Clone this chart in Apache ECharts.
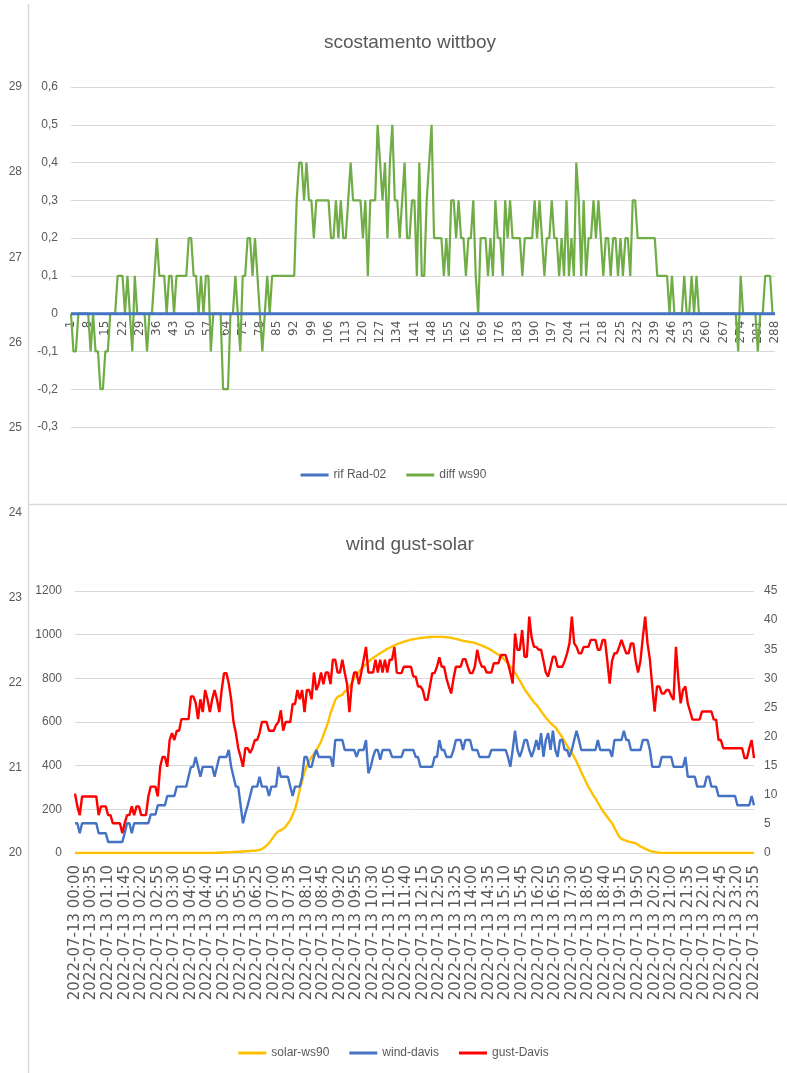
<!DOCTYPE html>
<html>
<head>
<meta charset="utf-8">
<title>scostamento wittboy / wind gust-solar</title>
<script src="https://cdn.jsdelivr.net/npm/echarts@6/dist/echarts.min.js"></script>
<style>
  html, body { margin: 0; padding: 0; background: #fff; }
  #chart { width: 787px; height: 1073px; }
</style>
</head>
<body>
<div id="chart"></div>
<script>
// ---- top chart: scostamento wittboy (288 samples, index 1..288) ----
const rifRad02 = [
  0,0,0,0,0,0,0,0,0,0,0,0, 0,0,0,0,0,0,0,0,0,0,0,0, 0,0,0,0,0,0,0,0,0,0,0,0,
  0,0,0,0,0,0,0,0,0,0,0,0, 0,0,0,0,0,0,0,0,0,0,0,0, 0,0,0,0,0,0,0,0,0,0,0,0,
  0,0,0,0,0,0,0,0,0,0,0,0, 0,0,0,0,0,0,0,0,0,0,0,0, 0,0,0,0,0,0,0,0,0,0,0,0,
  0,0,0,0,0,0,0,0,0,0,0,0, 0,0,0,0,0,0,0,0,0,0,0,0, 0,0,0,0,0,0,0,0,0,0,0,0,
  0,0,0,0,0,0,0,0,0,0,0,0, 0,0,0,0,0,0,0,0,0,0,0,0, 0,0,0,0,0,0,0,0,0,0,0,0,
  0,0,0,0,0,0,0,0,0,0,0,0, 0,0,0,0,0,0,0,0,0,0,0,0, 0,0,0,0,0,0,0,0,0,0,0,0,
  0,0,0,0,0,0,0,0,0,0,0,0, 0,0,0,0,0,0,0,0,0,0,0,0, 0,0,0,0,0,0,0,0,0,0,0,0,
  0,0,0,0,0,0,0,0,0,0,0,0, 0,0,0,0,0,0,0,0,0,0,0,0, 0,0,0,0,0,0,0,0,0,0,0,0
];
const diffWs90 = [
  0,-0.1,-0.1,0,0,0,0,0,-0.1,0,-0.1,-0.1,
  -0.2,-0.2,-0.1,-0.1,0,0,0,0.1,0.1,0.1,0,0.1,
  0,-0.1,0.1,0,0,0,0,-0.1,0,0,0.1,0.2,
  0.1,0.1,0.1,0,0.1,0.1,0,0.1,0.1,0.1,0.1,0.1,
  0.2,0.2,0.1,0.1,0,0.1,0,0.1,0.1,-0.1,0,0,
  0,0,-0.2,-0.2,-0.2,0,0,0.1,0,-0.1,0.1,0.1,
  0.2,0.2,0.1,0.2,0.1,0,-0.1,0,0.1,0,0.1,0.1,
  0.1,0.1,0.1,0.1,0.1,0.1,0.1,0.1,0.3,0.4,0.4,0.3,
  0.4,0.3,0.3,0.2,0.3,0.3,0.3,0.3,0.3,0.3,0.2,0.2,
  0.3,0.2,0.3,0.2,0.2,0.3,0.4,0.3,0.3,0.3,0.3,0.2,
  0.3,0.1,0.3,0.3,0.3,0.5,0.4,0.3,0.4,0.2,0.4,0.5,
  0.3,0.3,0.2,0.3,0.4,0.2,0.2,0.3,0.3,0.1,0.4,0.1,
  0.1,0.3,0.4,0.5,0.2,0.2,0.2,0.2,0.1,0.2,0.1,0.3,
  0.3,0.2,0.3,0.2,0.2,0.1,0.2,0.2,0.3,0.1,0,0.2,
  0.2,0.2,0.1,0.2,0.1,0.3,0.2,0.2,0.1,0.3,0.2,0.3,
  0.2,0.2,0.2,0.2,0.1,0.2,0.2,0.2,0.2,0.3,0.2,0.3,
  0.2,0.1,0.2,0.2,0.3,0.2,0.2,0.1,0.2,0.1,0.3,0.1,
  0.2,0.1,0.4,0.3,0.1,0.3,0.1,0.2,0.2,0.3,0.2,0.3,
  0.2,0.1,0.2,0.2,0.1,0.2,0.2,0.1,0.2,0.1,0.2,0.2,
  0.1,0.3,0.3,0.2,0.2,0.2,0.2,0.2,0.2,0.2,0.2,0.1,
  0.1,0.1,0.1,0.1,0,0.1,0,0,0,0,0.1,0,
  0,0.1,0,0.1,0,0,0,0,0,0,0,0,
  0,0,0,0,0,0,0,0,-0.1,0.1,0,0,
  0,0,0,0,-0.1,0,0,0.1,0.1,0.1,0,0
];

// ---- bottom chart: wind gust-solar, 2022-07-13 every 5 minutes (one row = one hour) ----
const solarWs90 = [
  0,0,0,0,0,0,0,0,0,0,0,0,
  0,0,0,0,0,0,0,0,0,0,0,0,
  0,0,0,0,0,0,0,0,0,0,0,0,
  0,0,0,0,0,0,0,0,0,0,0,0,
  0,0,0,0,0,0,0,0,0,0,0,0,
  1,1,2,2,3,3,4,5,5,6,6,7,
  8,8,9,10,10,12,14,18,25,35,45,60,
  75,90,100,105,110,120,135,150,175,200,240,290,
  330,370,400,420,440,455,470,490,510,540,570,600,
  640,670,700,715,720,725,740,745,760,780,800,815,
  830,845,855,865,875,885,893,900,908,915,922,928,
  935,940,946,951,956,960,964,968,971,974,977,979,
  981,983,985,986,987,988,989,990,990,990,990,990,
  989,988,987,985,983,981,978,975,972,970,968,966,
  965,962,958,954,950,945,940,935,929,922,915,908,
  900,890,880,868,855,840,825,808,790,770,750,735,
  720,705,690,680,665,650,635,620,608,595,585,577,
  560,545,528,510,492,475,458,440,418,395,370,348,
  325,303,285,265,250,230,212,195,180,165,150,136,
  115,95,75,65,60,56,52,50,47,45,38,30,
  25,20,14,10,7,5,3,1,0,0,0,0,
  0,0,0,0,0,0,0,0,0,0,0,0,
  0,0,0,0,0,0,0,0,0,0,0,0,
  0,0,0,0,0,0,0,0,0,0,0,0
];
const windDavis = [
  5.1,5.1,3.4,5.1,5.1,5.1,5.1,5.1,5.1,5.1,3.4,3.4,
  3.4,3.4,1.9,1.9,1.9,1.9,1.9,1.9,1.9,3.4,5.1,5.1,
  3.4,5.1,5.1,5.1,5.1,5.1,5.1,5.1,6.6,6.6,6.6,8.2,
  8.2,8.2,8.2,9.8,9.8,9.8,9.8,11.4,11.4,11.4,11.4,11.4,
  13.1,14.8,14.8,16.5,14.8,13.1,14.8,14.8,14.8,14.8,14.8,13.1,
  14.8,16.5,16.5,16.5,16.5,17.7,14.8,13.1,11.4,11.4,8.2,5.1,
  6.8,8.2,9.8,11.4,11.4,11.4,13.1,11.4,11.4,11.4,9.8,11.4,
  11.4,11.4,14.8,13.1,13.1,13.1,13.1,11.4,9.8,11.4,11.4,11.4,
  13.1,16.5,16.5,14.8,14.8,16.5,17.7,16.5,16.5,16.5,16.5,16.5,
  16.5,14.8,19.4,19.4,19.4,19.4,17.7,17.7,17.7,17.7,17.7,16.5,
  17.7,17.7,17.7,19.4,13.7,14.8,16.5,17.7,17.7,16.0,17.7,17.7,
  17.7,17.7,16.5,16.5,16.5,16.5,16.5,17.7,17.7,17.7,17.7,17.7,
  16.5,16.5,14.8,14.8,14.8,14.8,14.8,14.8,16.5,16.5,19.4,17.7,
  17.7,16.5,16.5,16.5,17.7,19.4,19.4,19.4,17.7,19.4,19.4,19.4,
  17.7,17.7,17.7,16.5,16.5,16.5,16.5,16.5,17.7,17.7,17.7,17.7,
  17.7,17.7,17.7,16.5,14.8,17.7,21.0,17.7,16.5,17.7,19.4,19.4,
  17.7,16.5,17.7,19.4,17.7,20.6,16.5,19.4,20.6,17.7,21.0,17.7,
  16.5,19.4,19.4,17.7,17.7,16.5,17.7,19.4,21.0,19.4,17.7,17.7,
  17.7,17.7,17.7,17.7,17.7,19.4,17.7,17.7,17.7,17.7,17.7,16.5,
  19.4,19.4,19.4,19.4,21.0,19.4,19.4,17.7,17.7,17.7,17.7,17.7,
  19.4,19.4,19.4,17.7,14.8,14.8,14.8,14.8,16.5,16.5,16.5,16.5,
  16.5,14.8,14.8,14.8,14.8,14.8,16.5,13.1,13.1,13.1,13.1,11.4,
  11.4,11.4,11.4,13.1,13.1,11.4,11.4,11.4,9.8,9.8,9.8,9.8,
  9.8,9.8,9.8,9.8,8.2,8.2,8.2,8.2,8.2,8.2,9.8,8.2
];
const gustDavis = [
  10.2,8,6.5,9.7,9.7,9.7,9.7,9.7,9.7,9.7,6.5,8,
  8,8,6.5,6.5,5.1,5.1,5.1,5.1,3.4,5.1,6.5,6.5,
  8,6.5,8,8,6.5,6.5,6.5,9.7,11.4,11.4,11.4,9.7,
  14.8,16.5,16.5,14.8,19.4,20.6,19.4,21,21,23,23,23,
  23,26.9,26.9,25.8,23,26.4,24.2,28,26.4,24.2,26.4,28,
  26.4,24.2,28,30.9,30.9,29.1,26.4,22.5,20.6,18,16.5,14.8,
  18,18,17.2,18,19.4,19.4,20.6,22.5,22.5,22.5,21,21,
  21,22,22.5,24.5,21,22.5,22.5,22.5,25.6,25.6,28,26.4,
  28,24.2,28,28,26.4,31,28,29,31,29,31,31,
  29,33.2,33.2,31,31,33.2,31,29,24.2,29,31,31,
  29,31,33.2,35.4,31,31,31,33.2,31,33.2,31,33.2,
  31,33.2,33.2,35.4,31,30.9,30.9,32,32,32,32,30.3,
  30.3,28.6,28.6,28,26.3,26.3,28.6,30.9,30.9,32,33.6,32,
  32,30,28.6,27.4,30,32,32,32,33.3,33.3,32,30.9,
  30.9,32,34.9,33,32,32,31,31,31,32.6,32.6,32.6,
  34,34,34,32.6,31,29.1,37.7,34.9,34.9,38.3,33.7,33.7,
  40.6,37,35.4,35.4,34.9,34.9,33,31,30.3,32,33.7,33.7,
  32,32,32,33,34.3,36,40.6,36,35.4,34.3,34.3,35.4,
  35.4,35.4,36.6,36.6,36.6,34.9,34.9,36.6,36.6,33,29.1,33,
  34.3,34.3,35.4,36.6,35.4,34.3,34.3,36,36,33,31,33,
  37,40.6,36,33.2,28.6,24.3,28.6,28.6,27.4,27.4,28,28,
  27,26.3,35.4,30,25.7,28,28.6,25.7,24.3,22.9,22.9,22.9,
  22.9,24.3,24.3,24.3,24.3,24.3,22.9,22.9,19.4,19.4,18,18,
  18,18,18,18,18,18,18,16.3,16.3,18,19.4,16.3
];

// category labels
const topCats = [];
for (let i = 1; i <= 288; i++) topCats.push(String(i));
const timeCats = [];
for (let h = 0; h < 24; h++) {
  for (let m = 0; m < 60; m += 5) {
    timeCats.push('2022-07-13 ' + String(h).padStart(2, '0') + ':' + String(m).padStart(2, '0'));
  }
}
// labels of the chart lying behind (left edge only)
const bgTicks = [20, 29, 1];

const FONT = '"Liberation Sans", sans-serif';
const CATFONT = '"DejaVu Sans", sans-serif';
const TXT = '#595959';
const GRID = '#d9d9d9';

// top chart: y range -0.3..0.6 over 340px, category axis sits on 0
const TOP_H = 340;
const zeroOffset = -TOP_H * 0.3 / 0.9;

let chart = echarts.init(document.getElementById('chart'), null, {renderer: 'canvas'});

chart.setOption({
    backgroundColor: '#fff',
    animation: false,
    textStyle: {fontFamily: FONT},
    title: [{
        text: 'scostamento wittboy',
        left: 405, top: 28, textAlign: 'center',
        textStyle: {fontFamily: FONT, fontSize: 19, fontWeight: 'normal', color: TXT}
    }, {
        text: 'wind gust-solar',
        left: 405, top: 530, textAlign: 'center',
        textStyle: {fontFamily: FONT, fontSize: 19, fontWeight: 'normal', color: TXT}
    }],
    legend: [{
        data: ['rif Rad-02', 'diff ws90'],
        left: 'center', top: 464,
        icon: 'rect', itemWidth: 28, itemHeight: 3, itemGap: 20,
        textStyle: {fontFamily: FONT, fontSize: 12, color: TXT}
    }, {
        data: ['solar-ws90', 'wind-davis', 'gust-Davis'],
        left: 'center', top: 1042,
        icon: 'rect', itemWidth: 28, itemHeight: 3, itemGap: 20,
        textStyle: {fontFamily: FONT, fontSize: 12, color: TXT}
    }],
    grid: [
        {left: 71, right: 12, top: 87, height: TOP_H},
        {left: 75, right: 33, top: 591, height: 262},
        {left: 28, width: 10, top: 87, height: 766}
    ],
    xAxis: [{
        type: 'category', gridIndex: 0, data: topCats, boundaryGap: false,
        offset: zeroOffset,
        axisLine: {onZero: false, lineStyle: {color: GRID}},
        axisTick: {show: false},
        axisLabel: {interval: 6, rotate: 90, margin: 7, fontSize: 12, color: TXT, fontFamily: CATFONT}
    }, {
        type: 'category', gridIndex: 1, data: timeCats, boundaryGap: false,
        axisLine: {lineStyle: {color: GRID}},
        axisTick: {show: false},
        axisLabel: {interval: 6, rotate: 90, margin: 12, fontSize: 15, color: TXT, fontFamily: CATFONT}
    }, {
        type: 'value', gridIndex: 2, show: false
    }],
    yAxis: [{
        type: 'value', gridIndex: 0, min: -0.3, max: 0.6, interval: 0.1,
        axisLine: {show: false}, axisTick: {show: false},
        splitLine: {lineStyle: {color: GRID}},
        axisLabel: {
            margin: 13, fontSize: 12, color: TXT, fontFamily: FONT,
            formatter: v => String(+v.toFixed(1)).replace('.', ',')
        }
    }, {
        type: 'value', gridIndex: 1, min: 0, max: 1200, interval: 200,
        axisLine: {show: false}, axisTick: {show: false},
        splitLine: {lineStyle: {color: GRID}},
        axisLabel: {margin: 13, fontSize: 12, color: TXT, fontFamily: FONT, formatter: v => String(v)}
    }, {
        type: 'value', gridIndex: 1, position: 'right', min: 0, max: 45, interval: 5,
        axisLine: {show: false}, axisTick: {show: false},
        splitLine: {show: false},
        axisLabel: {margin: 10, fontSize: 12, color: TXT, fontFamily: FONT}
    }, {
        type: 'value', gridIndex: 2, min: bgTicks[0], max: bgTicks[1], interval: bgTicks[2],
        axisLine: {show: false}, axisTick: {show: false}, splitLine: {show: false},
        axisLabel: {margin: 6, fontSize: 12, color: TXT, fontFamily: FONT}
    }],
    series: [{
        name: 'diff ws90', type: 'line', xAxisIndex: 0, yAxisIndex: 0,
        data: diffWs90, showSymbol: false, symbol: 'none',
        lineStyle: {color: '#70ad47', width: 2.2}, itemStyle: {color: '#70ad47'}
    }, {
        name: 'rif Rad-02', type: 'line', xAxisIndex: 0, yAxisIndex: 0,
        data: rifRad02, showSymbol: false, symbol: 'none', z: 3,
        lineStyle: {color: '#4472c4', width: 3}, itemStyle: {color: '#4472c4'}
    }, {
        name: 'solar-ws90', type: 'line', xAxisIndex: 1, yAxisIndex: 1,
        data: solarWs90, showSymbol: false, symbol: 'none',
        lineStyle: {color: '#ffc000', width: 2.4}, itemStyle: {color: '#ffc000'}
    }, {
        name: 'wind-davis', type: 'line', xAxisIndex: 1, yAxisIndex: 2,
        data: windDavis, showSymbol: false, symbol: 'none',
        lineStyle: {color: '#4472c4', width: 2.4}, itemStyle: {color: '#4472c4'}
    }, {
        name: 'gust-Davis', type: 'line', xAxisIndex: 1, yAxisIndex: 2,
        data: gustDavis, showSymbol: false, symbol: 'none',
        lineStyle: {color: '#ff0000', width: 2.4}, itemStyle: {color: '#ff0000'}
    }],
    // chart frames of the two stacked charts
    graphic: [{
        type: 'line', shape: {x1: 28.5, y1: 4, x2: 28.5, y2: 1073},
        style: {stroke: GRID, lineWidth: 1.5}, silent: true
    }, {
        type: 'line', shape: {x1: 28, y1: 504.5, x2: 787, y2: 504.5},
        style: {stroke: GRID, lineWidth: 1.5}, silent: true
    }]
});
</script>
</body>
</html>
